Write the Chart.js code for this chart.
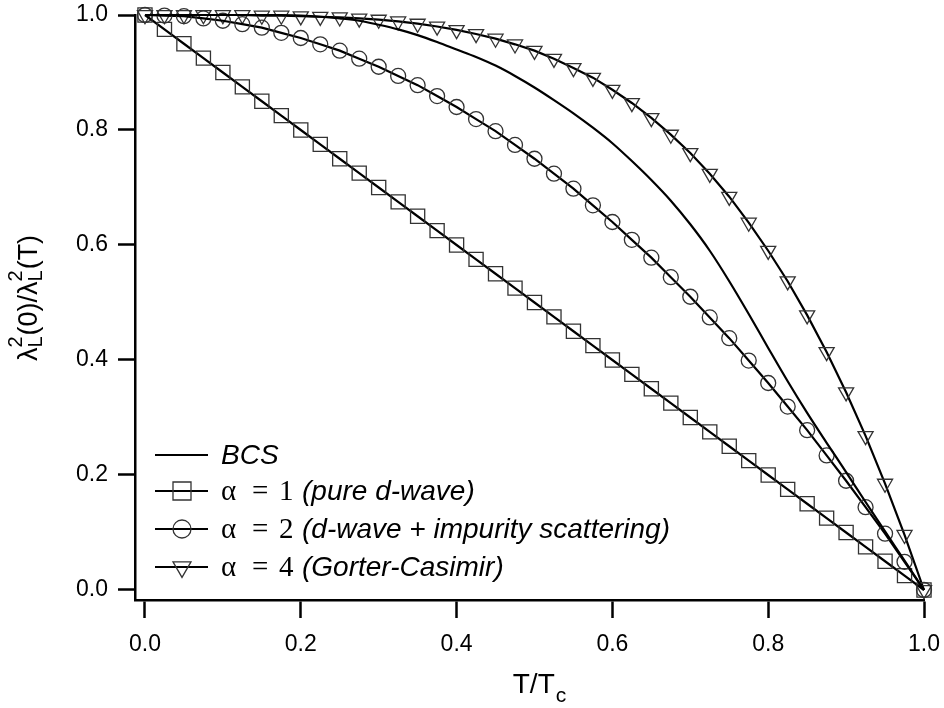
<!DOCTYPE html>
<html>
<head>
<meta charset="utf-8">
<script src="https://cdn.jsdelivr.net/npm/chart.js@4/dist/chart.umd.min.js"></script>
<style>
  html, body { margin: 0; padding: 0; background: #ffffff; }
  #wrap { width: 944px; height: 708px; }
</style>
</head>
<body>
<div id="wrap"><canvas id="chart" width="944" height="708"></canvas></div>
<script>
// Reduced temperature T/Tc
const tValues = [
  0.000, 0.025, 0.050, 0.075, 0.100, 0.125, 0.150, 0.175, 0.200, 0.225,
  0.250, 0.275, 0.300, 0.325, 0.350, 0.375, 0.400, 0.425, 0.450, 0.475,
  0.500, 0.525, 0.550, 0.575, 0.600, 0.625, 0.650, 0.675, 0.700, 0.725,
  0.750, 0.775, 0.800, 0.825, 0.850, 0.875, 0.900, 0.925, 0.950, 0.975,
  1.000
];

// Superfluid density lambda^2(0)/lambda^2(T), BCS weak-coupling curve
const bcsValues = [
  1.000, 1.000, 1.000, 1.000, 1.000, 1.000, 1.000, 1.000, 0.999, 0.997,
  0.994, 0.990, 0.983, 0.975, 0.965, 0.953, 0.940, 0.927, 0.912, 0.894,
  0.874, 0.852, 0.829, 0.804, 0.777, 0.746, 0.713, 0.677, 0.636, 0.590,
  0.537, 0.480, 0.421, 0.363, 0.308, 0.256, 0.205, 0.153, 0.102, 0.051,
  0.000
];

// alpha = 1 (pure d-wave)
const alpha1Values = [
  1.000, 0.975, 0.950, 0.925, 0.900, 0.875, 0.850, 0.825, 0.800, 0.775,
  0.750, 0.725, 0.700, 0.675, 0.650, 0.625, 0.600, 0.575, 0.550, 0.525,
  0.500, 0.475, 0.450, 0.425, 0.400, 0.375, 0.350, 0.325, 0.300, 0.275,
  0.250, 0.225, 0.200, 0.175, 0.150, 0.125, 0.100, 0.075, 0.050, 0.025,
  0.000
];

// alpha = 2 (d-wave + impurity scattering)
const alpha2Values = [
  1.000, 0.999, 0.998, 0.994, 0.990, 0.984, 0.978, 0.969, 0.960, 0.949,
  0.938, 0.924, 0.910, 0.894, 0.878, 0.859, 0.840, 0.819, 0.798, 0.774,
  0.750, 0.724, 0.698, 0.669, 0.640, 0.609, 0.578, 0.544, 0.510, 0.474,
  0.438, 0.399, 0.360, 0.319, 0.278, 0.234, 0.190, 0.144, 0.098, 0.049,
  0.000
];

// alpha = 4 (Gorter-Casimir two-fluid)
const alpha4Values = [
  1.000, 1.000, 1.000, 1.000, 1.000, 1.000, 0.999, 0.999, 0.998, 0.997,
  0.996, 0.994, 0.992, 0.989, 0.985, 0.980, 0.974, 0.967, 0.959, 0.949,
  0.938, 0.924, 0.908, 0.891, 0.870, 0.847, 0.821, 0.792, 0.760, 0.724,
  0.684, 0.639, 0.590, 0.537, 0.478, 0.414, 0.344, 0.268, 0.185, 0.096,
  0.000
];

const xTickValues = [0.0, 0.2, 0.4, 0.6, 0.8, 1.0];
const yTickValues = [0.0, 0.2, 0.4, 0.6, 0.8, 1.0];

const legendEntries = [
  { marker: 'none',     alpha: '',  note: 'BCS' },
  { marker: 'square',   alpha: '1', note: '(pure d-wave)' },
  { marker: 'circle',   alpha: '2', note: '(d-wave + impurity scattering)' },
  { marker: 'triangle', alpha: '4', note: '(Gorter-Casimir)' }
];

const SANS = '"Liberation Sans", Arial, Helvetica, sans-serif';
const SERIF = '"Liberation Serif", "Times New Roman", serif';
const INK = '#000000';
const MARK = '#333333';

function toPoints(ys) {
  return tValues.map((t, i) => ({ x: t, y: ys[i] }));
}

function drawMarker(ctx, kind, x, y, size) {
  ctx.save();
  ctx.strokeStyle = MARK;
  ctx.lineWidth = 1.3;
  ctx.beginPath();
  if (kind === 'square') {
    ctx.rect(x - size / 2, y - size / 2, size, size);
  } else if (kind === 'circle') {
    ctx.arc(x, y, size / 2, 0, Math.PI * 2);
  } else if (kind === 'triangle') {
    const r = size / Math.sqrt(3);
    ctx.moveTo(x - size / 2, y - r / 2);
    ctx.lineTo(x + size / 2, y - r / 2);
    ctx.lineTo(x, y + r);
    ctx.closePath();
  }
  ctx.stroke();
  ctx.restore();
}

// Drop the extra room Chart.js keeps for half-labels at the axis ends
function noEdgePadding(scale) {
  scale.paddingTop = 0;
  scale.paddingBottom = 0;
  scale.paddingLeft = 0;
  scale.paddingRight = 0;
}

// Legend box in the lower-left of the plot, and the two axis titles
const annotations = {
  id: 'annotations',
  afterDraw(chart) {
    const ctx = chart.ctx;
    const rowsY = [455, 491, 529, 567];
    ctx.save();
    legendEntries.forEach((entry, i) => {
      const y = rowsY[i];
      ctx.strokeStyle = INK;
      ctx.lineWidth = 2.2;
      ctx.beginPath();
      ctx.moveTo(155, y);
      ctx.lineTo(208, y);
      ctx.stroke();
      if (entry.marker !== 'none') drawMarker(ctx, entry.marker, 182, y, 18);

      ctx.fillStyle = INK;
      ctx.textBaseline = 'alphabetic';
      ctx.textAlign = 'left';
      if (entry.alpha === '') {
        ctx.font = 'italic 28px ' + SANS;
        ctx.fillText(entry.note, 221, y + 9);
      } else {
        ctx.font = '29px ' + SERIF;
        ctx.fillText('\u03b1', 221, y + 9);
        ctx.fillText('=', 252, y + 9);
        ctx.fillText(entry.alpha, 279, y + 9);
        ctx.font = 'italic 28px ' + SANS;
        ctx.fillText(entry.note, 302, y + 9);
      }
    });

    // x-axis title: T/Tc
    ctx.fillStyle = INK;
    ctx.textAlign = 'left';
    ctx.textBaseline = 'alphabetic';
    ctx.font = '28px ' + SANS;
    const mainX = 'T/T';
    const wMain = ctx.measureText(mainX).width;
    ctx.font = '21px ' + SANS;
    const wSub = ctx.measureText('c').width;
    let x0 = 539 - (wMain + wSub) / 2;
    ctx.font = '28px ' + SANS;
    ctx.fillText(mainX, x0, 693);
    ctx.font = '21px ' + SANS;
    ctx.fillText('c', x0 + wMain + 1, 702);

    // y-axis title: lambda_L^2(0)/lambda_L^2(T), rotated
    const pieces = [
      { t: '\u03bb', kind: 'main' },
      { sup: '2', sub: 'L' },
      { t: '(0)/\u03bb', kind: 'main' },
      { sup: '2', sub: 'L' },
      { t: '(T)', kind: 'main' }
    ];
    const mainFont = '27px ' + SANS;
    const smallFont = '20px ' + SANS;
    let total = 0;
    const widths = pieces.map(p => {
      let w;
      if (p.kind === 'main') { ctx.font = mainFont; w = ctx.measureText(p.t).width; }
      else {
        ctx.font = smallFont;
        w = Math.max(ctx.measureText(p.sup).width, ctx.measureText(p.sub).width) + 1;
      }
      total += w;
      return w;
    });
    ctx.translate(37, 298);
    ctx.rotate(-Math.PI / 2);
    let cx = -total / 2;
    pieces.forEach((p, i) => {
      if (p.kind === 'main') {
        ctx.font = mainFont;
        ctx.fillText(p.t, cx, 0);
      } else {
        ctx.font = smallFont;
        ctx.fillText(p.sup, cx, -15);
        ctx.fillText(p.sub, cx, 5);
      }
      cx += widths[i];
    });
    ctx.restore();
  }
};

const lineBase = {
  borderColor: INK,
  borderWidth: 2.2,
  fill: false,
  tension: 0,
  clip: false,
  pointBackgroundColor: 'rgba(0,0,0,0)',
  pointBorderColor: MARK,
  pointBorderWidth: 1.3,
  pointHoverRadius: 0
};

new Chart(document.getElementById('chart'), {
  type: 'line',
  data: {
    datasets: [
      Object.assign({}, lineBase, {
        label: 'BCS',
        data: toPoints(bcsValues),
        pointRadius: 0,
        cubicInterpolationMode: 'monotone'
      }),
      Object.assign({}, lineBase, {
        label: '\u03b1 = 1 (pure d-wave)',
        data: toPoints(alpha1Values),
        pointStyle: 'rect',
        pointRadius: 10
      }),
      Object.assign({}, lineBase, {
        label: '\u03b1 = 2 (d-wave + impurity scattering)',
        data: toPoints(alpha2Values),
        pointStyle: 'circle',
        pointRadius: 7.5
      }),
      Object.assign({}, lineBase, {
        label: '\u03b1 = 4 (Gorter-Casimir)',
        data: toPoints(alpha4Values),
        pointStyle: 'triangle',
        pointRotation: 180,
        pointRadius: 8.7
      })
    ]
  },
  options: {
    responsive: false,
    devicePixelRatio: 1,
    animation: false,
    events: [],
    layout: { padding: { top: 15, right: 20, left: 0, bottom: 0 } },
    plugins: {
      legend: { display: false },
      tooltip: { enabled: false },
      title: { display: false }
    },
    scales: {
      x: {
        type: 'linear',
        min: -0.0128,
        max: 1.0,
        afterBuildTicks(scale) { scale.ticks = xTickValues.map(v => ({ value: v })); },
        afterFit(scale) { scale.height = 108; noEdgePadding(scale); },
        grid: {
          display: true,
          drawOnChartArea: false,
          drawTicks: true,
          tickLength: 18,
          tickWidth: 2.5,
          tickColor: INK
        },
        border: { display: true, color: INK, width: 2.5 },
        ticks: {
          color: INK,
          padding: 13,
          maxRotation: 0,
          font: { family: SANS, size: 23 },
          callback: v => Number(v).toFixed(1)
        }
      },
      y: {
        type: 'linear',
        min: -0.0174,
        max: 1.0,
        afterBuildTicks(scale) { scale.ticks = yTickValues.map(v => ({ value: v })); },
        afterFit(scale) { scale.width = 135; noEdgePadding(scale); },
        grid: {
          display: true,
          drawOnChartArea: false,
          drawTicks: true,
          tickLength: 17,
          tickWidth: 2.5,
          tickColor: INK
        },
        border: { display: true, color: INK, width: 2.5 },
        ticks: {
          color: INK,
          padding: 10,
          font: { family: SANS, size: 23 },
          callback: v => Number(v).toFixed(1)
        }
      }
    }
  },
  plugins: [annotations]
});
</script>
</body>
</html>
